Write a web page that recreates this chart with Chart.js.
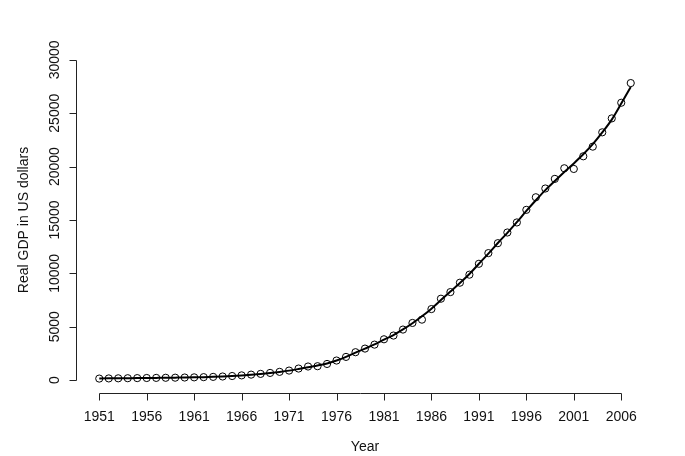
<!DOCTYPE html>
<html>
<head>
<meta charset="utf-8">
<script src="https://cdn.jsdelivr.net/npm/chart.js@4"></script>
<style>
  html, body { margin: 0; padding: 0; background: #ffffff; }
  #wrap { width: 685px; height: 456px; }
</style>
</head>
<body>
<div id="wrap"><canvas id="gdp-chart"></canvas></div>
<script>
// 年 (x軸)
const YEARS = [
  1951, 1952, 1953, 1954, 1955, 1956, 1957, 1958, 1959, 1960,
  1961, 1962, 1963, 1964, 1965, 1966, 1967, 1968, 1969, 1970,
  1971, 1972, 1973, 1974, 1975, 1976, 1977, 1978, 1979, 1980,
  1981, 1982, 1983, 1984, 1985, 1986, 1987, 1988, 1989, 1990,
  1991, 1992, 1993, 1994, 1995, 1996, 1997, 1998, 1999, 2000,
  2001, 2002, 2003, 2004, 2005, 2006, 2007,
];

// 観測値 (丸印)
const GDP_OBSERVED = [
  150, 165, 175, 185, 195, 205, 215, 225, 235, 250,
  265, 285, 310, 345, 390, 450, 520, 590, 680, 780,
  900, 1090, 1280, 1310, 1520, 1840, 2180, 2620, 2960, 3330,
  3830, 4180, 4740, 5360, 5670, 6660, 7630, 8250, 9130, 9880,
  10900, 11900, 12830, 13830, 14770, 15950, 17130, 17950, 18850, 19845,
  19780, 20965, 21870, 23210, 24514, 25980, 27822,
];

// 平滑化した曲線
const GDP_SMOOTH = [
  160, 170, 180, 188, 196, 205, 215, 225, 237, 250,
  266, 286, 312, 346, 390, 448, 515, 590, 675, 775,
  895, 1050, 1220, 1380, 1560, 1840, 2180, 2580, 2960, 3350,
  3800, 4230, 4750, 5330, 5980, 6700, 7500, 8300, 9100, 9950,
  10900, 11850, 12850, 13800, 14800, 15850, 16850, 17800, 18650, 19500,
  20300, 21150, 22100, 23200, 24400, 25900, 27450,
];

// 目盛り
const X_TICKS = [1951, 1956, 1961, 1966, 1971, 1976, 1981, 1986, 1991, 1996, 2001, 2006];
const Y_TICKS = [0, 5000, 10000, 15000, 20000, 25000, 30000];

const FONT = '14px "Liberation Sans", Arial, sans-serif';

// Rのplot風に軸を手描きする
const baseAxes = {
  id: 'baseAxes',
  afterDraw(chart) {
    const c = chart.ctx;
    const area = chart.chartArea;
    const xs = chart.scales.x;
    const ys = chart.scales.y;
    c.save();
    c.strokeStyle = '#222222';
    c.fillStyle = '#111111';
    c.lineWidth = 1;
    c.font = FONT;

    // x軸
    const yAxis = Math.round(area.bottom) + 0.5;
    const x0 = Math.round(xs.getPixelForValue(X_TICKS[0])) + 0.5;
    const x1 = Math.round(xs.getPixelForValue(X_TICKS[X_TICKS.length - 1])) + 0.5;
    c.beginPath();
    c.moveTo(x0, yAxis);
    c.lineTo(x1, yAxis);
    X_TICKS.forEach(function (t) {
      const px = Math.round(xs.getPixelForValue(t)) + 0.5;
      c.moveTo(px, yAxis);
      c.lineTo(px, yAxis + 7);
    });
    c.stroke();
    c.textAlign = 'center';
    c.textBaseline = 'middle';
    X_TICKS.forEach(function (t) {
      c.fillText(String(t), xs.getPixelForValue(t), yAxis + 24);
    });
    c.fillText('Year', (area.left + area.right) / 2, yAxis + 54);

    // y軸
    const xAxis = Math.round(area.left) - 1.5;
    const y0 = Math.round(ys.getPixelForValue(Y_TICKS[0])) + 0.5;
    const y1 = Math.round(ys.getPixelForValue(Y_TICKS[Y_TICKS.length - 1])) + 0.5;
    c.beginPath();
    c.moveTo(xAxis, y0);
    c.lineTo(xAxis, y1);
    Y_TICKS.forEach(function (t) {
      const py = Math.round(ys.getPixelForValue(t)) + 0.5;
      c.moveTo(xAxis, py);
      c.lineTo(xAxis - 7, py);
    });
    c.stroke();
    Y_TICKS.forEach(function (t) {
      c.save();
      c.translate(xAxis - 21, ys.getPixelForValue(t));
      c.rotate(-Math.PI / 2);
      c.fillText(String(t), 0, 0);
      c.restore();
    });
    c.save();
    c.translate(24, (area.top + area.bottom) / 2);
    c.rotate(-Math.PI / 2);
    c.fillText('Real GDP in US dollars', 0, 0);
    c.restore();

    c.restore();
  },
};

new Chart(document.getElementById('gdp-chart'), {
  type: 'line',
  data: {
    datasets: [
      {
        label: 'smooth',
        data: YEARS.map(function (y, i) { return { x: y, y: GDP_SMOOTH[i] }; }),
        borderColor: '#000000',
        borderWidth: 2,
        pointRadius: 0,
        fill: false,
        cubicInterpolationMode: 'monotone',
      },
      {
        label: 'observed',
        data: YEARS.map(function (y, i) { return { x: y, y: GDP_OBSERVED[i] }; }),
        showLine: false,
        pointStyle: 'circle',
        pointRadius: 3.6,
        pointBorderWidth: 1,
        pointBorderColor: '#000000',
        pointBackgroundColor: 'rgba(0,0,0,0)',
      },
    ],
  },
  options: {
    responsive: true,
    maintainAspectRatio: false,
    animation: false,
    layout: {
      padding: { left: 78, right: 33, top: 47, bottom: 63 },
    },
    plugins: {
      legend: { display: false },
      tooltip: { enabled: false },
    },
    scales: {
      x: { type: 'linear', display: false, min: 1948.76, max: 2009.24 },
      y: { type: 'linear', display: false, min: -1200, max: 31200 },
    },
  },
  plugins: [baseAxes],
});
</script>
</body>
</html>
